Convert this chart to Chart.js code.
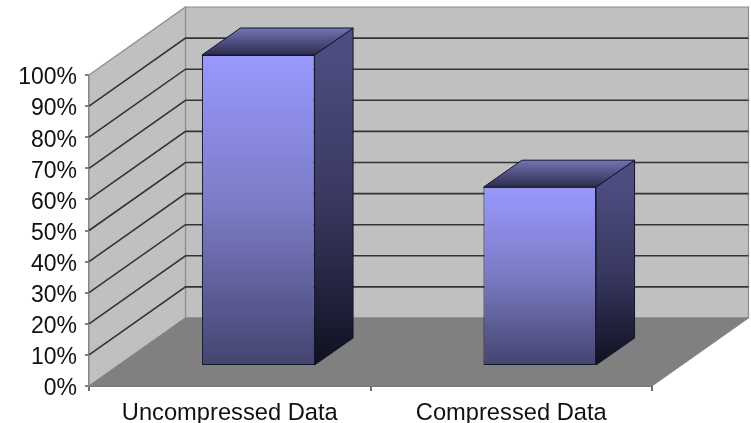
<!DOCTYPE html>
<html>
<head>
<meta charset="utf-8">
<title>Uncompressed vs compressed data</title>
<style>
  html, body { margin: 0; padding: 0; background: #fff; overflow: hidden; }
  canvas { display: block; filter: blur(0.4px); }
</style>
<script src="https://cdn.jsdelivr.net/npm/chart.js@4"></script>
</head>
<body>
<canvas id="chart" width="751" height="423"></canvas>
<script>
'use strict';

// Values
let categories = ['Uncompressed Data', 'Compressed Data'];
let dataSizes = [100, 57.5];

// 3D look: how far the back wall and the bars sit behind the front plane
const WALL_DX = 96.5;
const WALL_DY = -68;
const BAR_DX = 28.5;
const BAR_DY = -20;
const BAR_DEPTH_DX = 38.5;
const BAR_DEPTH_DY = -27;

function polygon(ctx, pts, fill, stroke, lineWidth) {
  ctx.beginPath();
  ctx.moveTo(pts[0][0], pts[0][1]);
  for (let i = 1; i < pts.length; i++) {
    ctx.lineTo(pts[i][0], pts[i][1]);
  }
  ctx.closePath();
  ctx.fillStyle = fill;
  ctx.fill();
  if (stroke) {
    ctx.strokeStyle = stroke;
    ctx.lineWidth = lineWidth;
    ctx.stroke();
  }
}

function gradient(ctx, y1, y2, c1, c2, cMid) {
  let g = ctx.createLinearGradient(0, y1, 0, y2);
  g.addColorStop(0, c1);
  if (cMid) {
    g.addColorStop(0.5, cMid);
  }
  g.addColorStop(1, c2);
  return g;
}

// Walls and floor go behind the bars, and the bars get moved into the middle of the floor
const wallsPlugin = {
  id: 'walls',
  beforeDatasetsDraw(chart) {
    const ctx = chart.ctx;
    const area = chart.chartArea;
    const y = chart.scales.y;
    const l = area.left, r = area.right, t = area.top, b = area.bottom;

    ctx.save();
    // back wall
    polygon(ctx, [[l + WALL_DX, t + WALL_DY], [r + WALL_DX, t + WALL_DY], [r + WALL_DX, b + WALL_DY], [l + WALL_DX, b + WALL_DY]], '#c0c0c0', '#8c8c8c', 1.2);
    // side wall
    polygon(ctx, [[l, t], [l + WALL_DX, t + WALL_DY], [l + WALL_DX, b + WALL_DY], [l, b]], '#c0c0c0', '#8c8c8c', 1.2);
    // floor
    polygon(ctx, [[l, b], [l + WALL_DX, b + WALL_DY], [r + WALL_DX, b + WALL_DY], [r, b]], '#808080', '#808080', 1);

    // gridlines run along the side wall then across the back wall
    y.ticks.forEach(function (tick) {
      if (tick.value === 0 || tick.value === 100) {
        return;
      }
      let py = y.getPixelForValue(tick.value);
      ctx.beginPath();
      ctx.moveTo(l, py);
      ctx.lineTo(l + WALL_DX, py + WALL_DY);
      ctx.lineTo(r + WALL_DX, py + WALL_DY);
      ctx.strokeStyle = '#333333';
      ctx.lineWidth = 1.6;
      ctx.stroke();
    });
    ctx.restore();

    ctx.save();
    ctx.translate(BAR_DX, BAR_DY);
  },
  afterDatasetsDraw(chart) {
    const ctx = chart.ctx;
    chart.getDatasetMeta(0).data.forEach(function (bar) {
      const p = bar.getProps(['x', 'y', 'base', 'width'], true);
      const x1 = p.x - p.width / 2;
      const x2 = p.x + p.width / 2;
      // right side
      polygon(ctx, [[x2, p.y], [x2 + BAR_DEPTH_DX, p.y + BAR_DEPTH_DY], [x2 + BAR_DEPTH_DX, p.base + BAR_DEPTH_DY], [x2, p.base]],
        gradient(ctx, p.y, p.base, '#4c4c80', '#101020', '#37375e'), '#14142a', 1);
      // top
      polygon(ctx, [[x1, p.y], [x1 + BAR_DEPTH_DX, p.y + BAR_DEPTH_DY], [x2 + BAR_DEPTH_DX, p.y + BAR_DEPTH_DY], [x2, p.y]],
        gradient(ctx, p.y + BAR_DEPTH_DY, p.y, '#7474b8', '#2c2c4c'), '#14142a', 1);
    });
    ctx.restore();
  }
};

const ctx = document.getElementById('chart').getContext('2d');

const chart = new Chart(ctx, {
  type: 'bar',
  data: {
    labels: categories,
    datasets: [{
      data: dataSizes,
      backgroundColor: function (c) {
        const area = c.chart.chartArea;
        if (!area || !c.parsed) {
          return '#9999ff';
        }
        const yScale = c.chart.scales.y;
        return gradient(c.chart.ctx, yScale.getPixelForValue(c.parsed.y), area.bottom, '#9999ff', '#44446f', '#7a7ac4');
      },
      borderColor: '#14142a',
      borderWidth: 1,
      borderSkipped: false,
      barPercentage: 0.4,
      categoryPercentage: 1
    }]
  },
  options: {
    responsive: false,
    animation: false,
    layout: {
      padding: { top: 75, right: 99, left: 0, bottom: 0 }
    },
    plugins: {
      legend: { display: false },
      tooltip: { enabled: false }
    },
    scales: {
      x: {
        afterFit: function (scale) { scale.height = 37; },
        grid: { drawOnChartArea: false, color: '#707070', lineWidth: 2, tickLength: 5 },
        border: { color: '#707070', width: 2 },
        ticks: { color: '#111', padding: 8, maxRotation: 0, font: { family: 'Liberation Sans', size: 23.7 } }
      },
      y: {
        min: 0,
        max: 100,
        afterFit: function (scale) { scale.width = 89; },
        grid: { drawOnChartArea: false, color: '#808080', lineWidth: 2, tickLength: 4 },
        border: { color: '#808080', width: 2 },
        ticks: {
          stepSize: 10,
          color: '#111',
          padding: 8,
          labelOffset: 3,
          font: { family: 'Liberation Sans', size: 23 },
          callback: function (v) { return v + '%'; }
        }
      }
    }
  },
  plugins: [wallsPlugin]
});
</script>
</body>
</html>
